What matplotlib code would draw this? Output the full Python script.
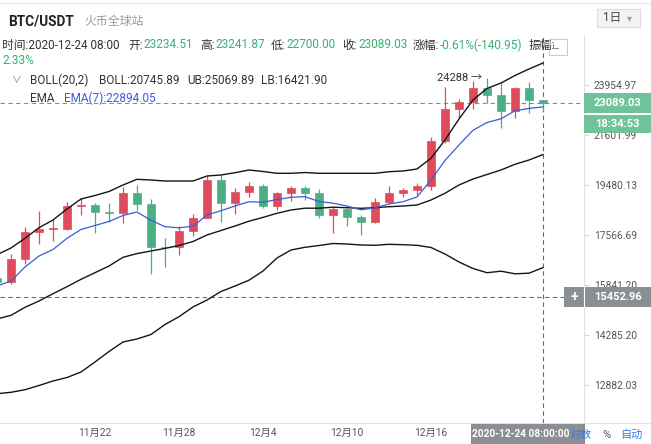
import matplotlib
matplotlib.use('Agg')
import matplotlib.pyplot as plt
from matplotlib.patches import Rectangle
from matplotlib.lines import Line2D
from matplotlib.ticker import FixedLocator, NullLocator
import numpy as np
import pandas as pd

W, H = 651, 444
plt.rcParams['font.family'] = ['Roboto', 'Noto Sans CJK SC', 'DejaVu Sans']

# daily candles, 2020-11-15 .. 2020-12-24
dates = pd.date_range('2020-11-15', '2020-12-24', freq='D')
opens = [16060, 15955, 16716, 17659, 17776, 17802, 18655, 18703, 18414, 18368,
         19160, 18720, 17150, 17139, 17720, 18190, 19690, 18762, 19196, 19430,
         18640, 19155, 19360, 19150, 18303, 18533, 18249, 18028, 18802, 19168,
         19276, 19434, 21335, 22796, 23135, 23814, 23443, 22694, 23810, 23234.51]
highs = [16120, 16880, 17850, 18476, 18170, 18815, 18960, 18755, 18780, 19415,
         19488, 18910, 17450, 17882, 18352, 19830, 19880, 19350, 19605, 19530,
         19190, 19430, 19430, 19300, 18600, 18580, 18313, 18950, 19425, 19368,
         19580, 21500, 23835, 23280, 24170, 24288, 24085, 23840, 24120, 23241.87]
lows = [15692.38, 15868, 16560, 17230, 17340, 17740, 18320, 17630, 18030, 18025,
        18499, 16200, 16445, 16870, 17523, 18190, 18060, 18332, 19000, 18567,
        18499, 18857, 18893, 18192, 17650, 17910, 17574, 18020, 18715, 19006,
        19065, 19284, 21230, 22370, 22800, 23078, 21900, 22370, 22625, 22700]
closes = [15955, 16716, 17659, 17776, 17830, 18655, 18703, 18414, 18368, 19160,
          18720, 17150, 17139, 17720, 18190, 19690, 18762, 19196, 19430, 18640,
          19155, 19360, 19150, 18303, 18533, 18249, 18028, 18802, 19168, 19276,
          19434, 21335, 22796, 23135, 23814, 23443, 22694, 23810, 23229.98, 23089.03]

ema7 = [15808, 15973, 16442, 16820, 17048, 17447, 17768, 17915, 18064, 18290,
        18422, 18109, 17871, 17830, 17886, 18308, 18472, 18652, 18819, 18796,
        18905, 18991, 19015, 18827, 18761, 18652, 18506, 18583, 18730, 18819,
        19003, 19683, 20493, 21160, 21813, 22168, 22338, 22710, 22823, 22894.05]
boll_up = [16865, 17101, 17447, 17834, 18120, 18537, 18924, 19062, 19220, 19480,
           19711, 19683, 19642, 19642, 19642, 19846, 19887, 19982, 20094, 20032,
           19957, 19957, 19990, 19957, 19957, 19957, 19957, 19957, 20023, 20052,
           20135, 20586, 21380, 22329, 23223, 23782, 24054, 24430, 24761, 25069.89]
boll_mid = [14766, 14879, 15127, 15326, 15559, 15786, 16029, 16249, 16476, 16775,
            16904, 16995, 17087, 17189, 17332, 17567, 17731, 17897, 18075, 18218,
            18373, 18499, 18568, 18568, 18606, 18587, 18564, 18587, 18625, 18652,
            18691, 18885, 19149, 19480, 19723, 19908, 20094, 20332, 20513, 20745.89]
boll_low = [12652, 12689, 12757, 12869, 12989, 13083, 13233, 13510, 13806, 14080,
            14168, 14300, 14599, 14836, 15137, 15357, 15630, 15808, 15999, 16306,
            16751, 17030, 17126, 17189, 17261, 17243, 17207, 17197, 17232, 17218,
            17197, 17119, 16890, 16613, 16391, 16249, 16300, 16212, 16233, 16421.90]

price_ticks = [12882.03, 14285.20, 15841.20, 17566.69, 19480.13, 21601.99, 23954.97]
date_ticks = ['2020-11-22', '2020-11-28', '2020-12-04', '2020-12-10', '2020-12-16']
cross_price = 15452.96
countdown = '18:34:53'
y_range = (11908.5, 26564.4)

RED = '#e04b5b'
GREEN = '#4caf83'
TXT_GREEN = '#36b074'
BLUE = '#3a5bdc'
BOX_GREEN = '#70c299'
BOX_GRAY = '#8b8e93'
FS = 8.5


def fx(px):
    return px / W


def fy(py):
    return 1 - py / H


fig = plt.figure(figsize=(W / 100, H / 100), dpi=100)
ax = fig.add_axes([0, fy(423), fx(584), (423 - 35) / H])

o = np.array(opens)
c = np.array(closes)
x = np.arange(len(dates))
up = c >= o
cols = np.where(up, RED, GREEN)

ax.vlines(x, lows, highs, colors=cols, lw=0.9, zorder=3)
ax.bar(x, np.abs(c - o), bottom=np.minimum(o, c), width=0.62, color=cols,
       edgecolor=cols, lw=0.5, zorder=3)

for band in (boll_up, boll_mid, boll_low):
    ax.plot(x, band, color='#151515', lw=1.0, zorder=4)
ax.plot(x, ema7, color=BLUE, lw=0.9, zorder=4)

ax.set_yscale('log')
ax.set_ylim(*y_range)
ax.set_xlim(0.214, 41.93)
ax.yaxis.set_major_locator(FixedLocator(price_ticks))
ax.yaxis.set_minor_locator(NullLocator())
ax.set_yticklabels([f'{v:.2f}' for v in price_ticks])
ax.yaxis.tick_right()
ax.tick_params(axis='y', length=3.6, width=0.8, color='#d6d6d6', pad=3.4,
               labelsize=7.4, labelcolor='#555555')

tick_pos = [dates.get_loc(pd.Timestamp(d)) for d in date_ticks]
ax.set_xticks(tick_pos)
ax.set_xticklabels([f'{pd.Timestamp(d).month}月{pd.Timestamp(d).day}' for d in date_ticks])
ax.tick_params(axis='x', length=0, pad=3.8, labelsize=7.4, labelcolor='#555555')
for s in ax.spines.values():
    s.set_visible(False)

# dashed guide lines
ax.axhline(closes[-1], color=GREEN, lw=0.8, ls=(0, (4, 3)), zorder=2)
ax.axhline(cross_price, xmax=564 / 584, color='#707070', lw=0.8, ls=(0, (4, 3)), zorder=2)
ax.axvline(x[-1], color='#5f6b78', lw=0.8, ls=(0, (4, 3)), zorder=2)

# high / low markers
imax = int(np.argmax(highs))
imin = int(np.argmin(lows))
ax.annotate(f'{highs[imax]:g} →', xy=(x[imax], highs[imax]), xytext=(-3.5, 0),
            textcoords='offset points', ha='right', va='center', fontsize=8, color='#333333')
ax.annotate(f'{lows[imin]:.2f}', xy=(x[imin], lows[imin]), xytext=(1.5, -1),
            textcoords='offset points', ha='left', va='center', fontsize=8, color='#333333')


def data_fy(v):
    return fig.transFigure.inverted().transform(ax.transData.transform((0, v)))[1]


def ftext(px, py, s, **kw):
    kw.setdefault('va', 'center')
    return fig.text(fx(px), fy(py), s, **kw)


def box(px, fyc, w, h, color, z=6):
    fig.add_artist(Rectangle((fx(px), fyc - h / 2 / H), w / W, h / H,
                             transform=fig.transFigure, facecolor=color,
                             edgecolor='none', zorder=z))


# frame lines
fig.add_artist(Line2D([0, 1], [fy(3), fy(3)], color='#e8e8e8', lw=0.8))
fig.add_artist(Line2D([0, 1], [fy(423), fy(423)], color='#e2e2e2', lw=0.8))
fig.add_artist(Line2D([fx(584), fx(584)], [fy(35), 0], color='#e2e2e2', lw=0.8))

# price tags on the right axis
ylast = data_fy(closes[-1])
box(584, ylast, 67, 20, BOX_GREEN)
fig.text(fx(594), ylast, f'{closes[-1]:.2f}', color='white', fontsize=8, weight='bold',
         va='center', zorder=7)
box(584, ylast - 21 / H, 67, 18.5, BOX_GREEN)
fig.text(fx(617), ylast - 21 / H, countdown, color='white', fontsize=8, weight='bold',
         va='center', ha='center', zorder=7)
ycross = data_fy(cross_price)
box(564, ycross, 87, 20, BOX_GRAY)
fig.add_artist(Line2D([fx(584), fx(584)], [ycross - 10 / H, ycross + 10 / H],
                      color='white', lw=0.8, zorder=7))
fig.text(fx(574), ycross, '+', color='white', fontsize=10, weight='bold',
         va='center', ha='center', zorder=7)
fig.text(fx(594), ycross, f'{cross_price:.2f}', color='white', fontsize=8, weight='bold',
         va='center', zorder=7)

# crosshair date tag and axis mode buttons
box(471, fy(434), 114, 20, BOX_GRAY)
fig.text(fx(521), fy(434), dates[-1].strftime('%Y-%m-%d') + ' 08:00:00', color='white',
         fontsize=7.3, weight='bold', va='center', ha='center', zorder=7)
ftext(570, 435, '对数', color='#3b7de0', fontsize=8, zorder=8)
ftext(602, 435, '%', color='#555555', fontsize=8, zorder=8)
ftext(620, 435, '自动', color='#3b7de0', fontsize=8, zorder=8)

# header
ftext(8, 21, 'BTC/USDT', fontsize=9.8, weight='bold', color='#222222')
ftext(84, 21, '火币全球站', fontsize=8.6, color='#9a9a9a')
fig.add_artist(Rectangle((fx(597), fy(27)), 43 / W, 18 / H, transform=fig.transFigure,
                         facecolor='#f3f3f3', edgecolor='#dddddd', lw=0.8))
ftext(603, 18, '1日', fontsize=8.4, color='#444444')
ftext(627, 18, '▾', fontsize=7, color='#999999')

prev_close = closes[-2]
chg = closes[-1] - prev_close
amp = (highs[-1] - lows[-1]) / prev_close * 100
ftext(2, 45, '时间:' + dates[-1].strftime('%Y-%m-%d') + ' 08:00', fontsize=FS, color='#333333')
for px, lab, val in [(128, '开:', opens[-1]), (200, '高:', highs[-1]),
                     (270.5, '低:', lows[-1]), (342.5, '收:', closes[-1])]:
    ftext(px, 45, lab, fontsize=FS, color='#333333')
    ftext(px + 15.5, 45, f'{val:.2f}', fontsize=FS, color=TXT_GREEN)
ftext(413, 45, '涨幅:', fontsize=FS, color='#333333')
ftext(440, 45, f'{chg / prev_close * 100:.2f}%({chg:.2f})', fontsize=FS, color=TXT_GREEN)
ftext(529, 45, '振幅:', fontsize=FS, color='#333333')
ftext(2, 61, f'{amp:.2f}%', fontsize=FS, color=TXT_GREEN)
fig.add_artist(Rectangle((fx(549), fy(55)), 18 / W, 16 / H, transform=fig.transFigure,
                         facecolor='none', edgecolor='#cccccc', lw=0.8, zorder=6))
fig.add_artist(Line2D([fx(553), fx(553), fx(558)], [fy(44), fy(48), fy(48)],
                      color='#888888', lw=0.7, zorder=6))

ftext(12, 80, '∨', fontsize=7, color='#888888')
ftext(30, 80, 'BOLL(20,2)', fontsize=FS, color='#333333')
ftext(99, 80, f'BOLL:{boll_mid[-1]:.2f}', fontsize=FS, color='#333333')
ftext(187, 80, f'UB:{boll_up[-1]:.2f}', fontsize=FS, color='#333333')
ftext(261, 80, f'LB:{boll_low[-1]:.2f}', fontsize=FS, color='#333333')
ftext(30, 98, 'EMA', fontsize=FS, color='#333333')
ftext(64, 98, f'EMA(7):{ema7[-1]:.2f}', fontsize=FS, color=BLUE)

fig.savefig('out.png', dpi=100)
